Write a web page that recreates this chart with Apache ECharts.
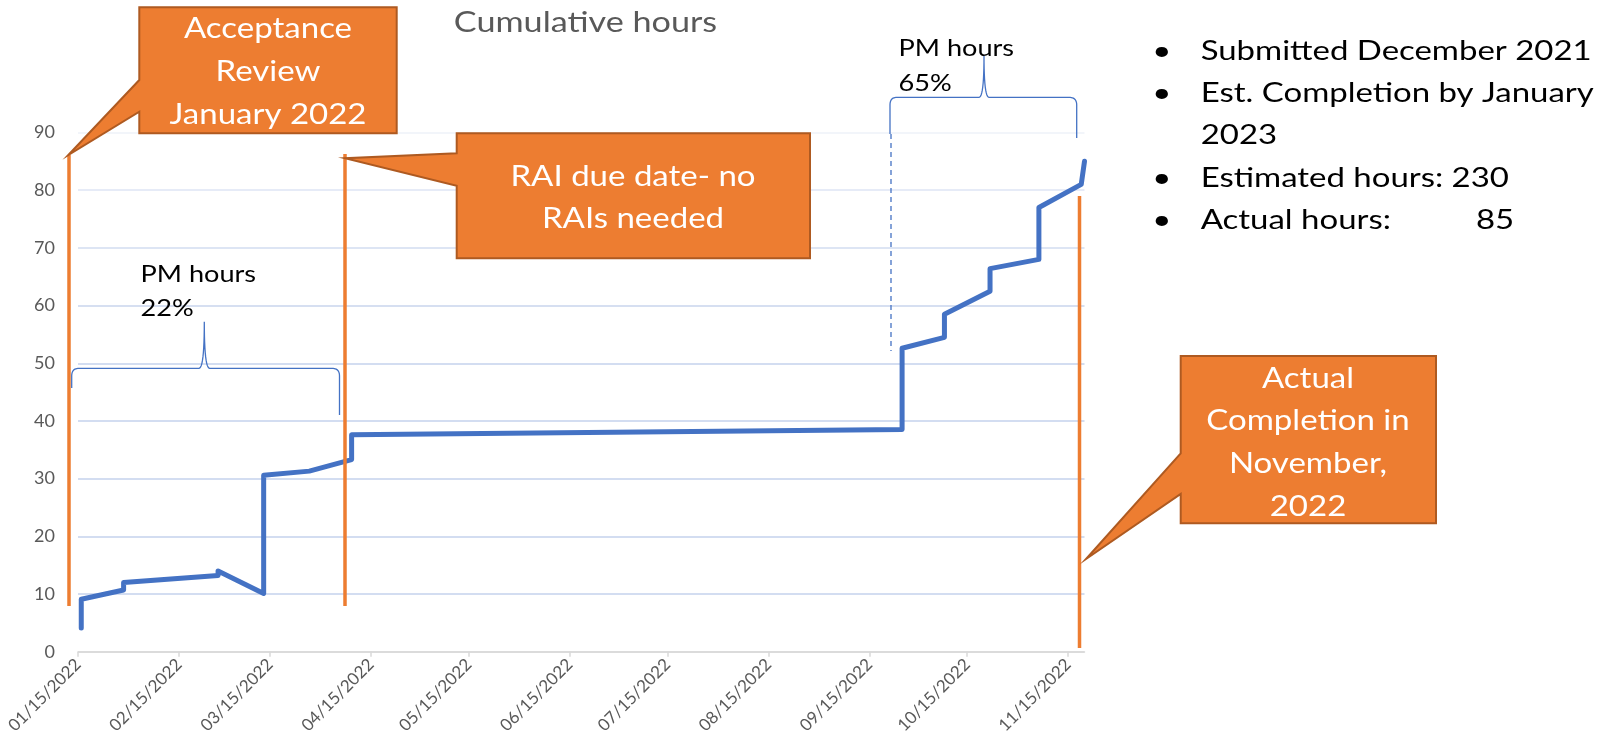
<!DOCTYPE html>
<html><head><meta charset="utf-8">
<script src="https://cdn.jsdelivr.net/npm/echarts@6/dist/echarts.min.js"></script>
<style>html,body{margin:0;padding:0;background:#fff}#c{width:1608px;height:742px}</style>
</head><body><div id="c"></div>
<script>
// ---- data ----
const dates = ['2022-01-16','2022-01-16','2022-01-29','2022-01-29','2022-02-27','2022-02-27','2022-03-13','2022-03-13','2022-03-27','2022-04-09','2022-04-09','2022-09-25','2022-09-25','2022-10-08','2022-10-08','2022-10-22','2022-10-22','2022-11-06','2022-11-06','2022-11-19','2022-11-20'];
const hours = [4.1, 9.1, 10.7, 12.0, 13.2, 14.0, 10.1, 30.6, 31.3, 33.3, 37.6, 38.5, 52.6, 54.5, 58.5, 62.5, 66.4, 68.0, 77.0, 81.0, 85.0];
const tickLabels = ['01/15/2022','02/15/2022','03/15/2022','04/15/2022','05/15/2022','06/15/2022','07/15/2022','08/15/2022','09/15/2022','10/15/2022','11/15/2022'];
const axisStart = '01/15/2022';
const axisEnd = '11/20/2022';
const yMin = 0, yMax = 90, yStep = 10;
const titleText = 'Cumulative hours';
const bullets = ['Submitted December 2021', 'Est. Completion by January', '2023', 'Estimated hours: 230', 'Actual hours:'];
const actualHoursValue = '85';
const callout1 = ['Acceptance', 'Review', 'January 2022'];
const callout2 = ['RAI due date- no', 'RAIs needed'];
const callout3 = ['Actual', 'Completion in', 'November,', '2022'];
const pmLeft = ['PM hours', '22%'];
const pmRight = ['PM hours', '65%'];

// ---- helpers ----
const toTs = s => { const [m, d, y] = s.split('/').map(Number); return new Date(y, m - 1, d).getTime(); };
const isoTs = s => { const [y, m, d] = s.split('-').map(Number); return new Date(y, m - 1, d).getTime(); };
const tickTs = tickLabels.map(toTs);
const pad = n => (n < 10 ? '0' : '') + n;
const fmt = v => { const d = new Date(v); return pad(d.getMonth() + 1) + '/' + pad(d.getDate()) + '/' + d.getFullYear(); };
const seriesData = dates.map((d, i) => [isoTs(d), hours[i]]);

const FONT = 'Lato';
const mctx = document.createElement('canvas').getContext('2d');
function textW(t, size) { mctx.font = size + 'px ' + FONT; return mctx.measureText(t).width; }
const STRETCH = 391 / textW('Submitted December 2021', 26);

function txt(text, x, baseline, size, color, align, k) {
  return {
    type: 'text', x: x, y: baseline - 0.35 * size, scaleX: STRETCH * (k || 1), z: 120,
    style: { text: text, font: size + 'px ' + FONT, fill: color, align: align || 'left', verticalAlign: 'middle' }
  };
}
function bracePts(cmds) {
  const pts = []; let cur = null;
  cmds.forEach(c => {
    if (c[0] === 'M' || c[0] === 'L') { cur = [c[1], c[2]]; pts.push(cur); }
    else {
      const [_, cx, cy, x, y] = c; const p0 = cur;
      for (let k = 1; k <= 12; k++) {
        const t = k / 12, u = 1 - t;
        pts.push([u*u*p0[0] + 2*u*t*cx + t*t*x, u*u*p0[1] + 2*u*t*cy + t*t*y]);
      }
      cur = [x, y];
    }
  });
  return pts;
}

const ORANGE = '#ED7D31', ORANGE_D = '#AE5A21', BLUE = '#4472C4';
const K = 0.93;
const g = [];
[[69, 155, 606], [345, 154, 606], [1079.5, 196, 648]].forEach(l => g.push({
  type: 'line', z: 110, shape: { x1: l[0], y1: l[1], x2: l[0], y2: l[2] },
  style: { stroke: ORANGE, lineWidth: 3.5 }
}));
g.push({ type: 'polyline', z: 110, shape: { points: bracePts([['M',71.7,388],['L',71.7,376],['Q',71.7,368.3,79,368.3],['L',199,368.3],['Q',204.3,368.3,204.3,321.7],['Q',204.3,368.3,209.6,368.3],['L',332,368.3],['Q',339.5,368.3,339.5,376],['L',339.5,415]]) }, style: { stroke: BLUE, lineWidth: 1.3, fill: null } });
g.push({ type: 'polyline', z: 110, shape: { points: bracePts([['M',890,134],['L',890,105],['Q',890,97.3,897,97.3],['L',979,97.3],['Q',984,97.3,984,56],['Q',984,97.3,989,97.3],['L',1069,97.3],['Q',1076.7,97.3,1076.7,105],['L',1076.7,138]]) }, style: { stroke: BLUE, lineWidth: 1.3, fill: null } });
g.push({ type: 'line', z: 110, shape: { x1: 891, y1: 134, x2: 891, y2: 351 }, style: { stroke: BLUE, lineWidth: 1.3, lineDash: [5, 4] } });
const callouts = [
  [[139.3,7.3],[396.7,7.3],[396.7,133.3],[139.3,133.3],[139.3,111.7],[68.3,155],[139.3,80]],
  [[456.7,133.3],[810,133.3],[810,258.3],[456.7,258.3],[456.7,185.7],[345,158.3],[456.7,153.3]],
  [[1180.7,356],[1436,356],[1436,523.3],[1180.7,523.3],[1180.7,494],[1086,559],[1180.7,453.3]]
];
callouts.forEach(p => g.push({ type: 'polygon', z: 115, shape: { points: p }, style: { fill: ORANGE, stroke: ORANGE_D, lineWidth: 2 } }));
[38.3, 81.7, 125].forEach((b, i) => g.push(txt(callout1[i], 268, b, 28, '#fff', 'center', K)));
[186.7, 229].forEach((b, i) => g.push(txt(callout2[i], 633, b, 28, '#fff', 'center', K)));
[388.3, 431, 473.8, 516.6].forEach((b, i) => g.push(txt(callout3[i], 1308, b, 28, '#fff', 'center', K)));
g.push(txt(titleText, 585.5, 33, 29, '#595959', 'center', K));
[283, 317].forEach((b, i) => g.push(txt(pmLeft[i], 140.5, b, 23, '#000', 'left', K)));
[56.5, 92].forEach((b, i) => g.push(txt(pmRight[i], 898.5, b, 23, '#000', 'left', K)));
const bl = [60.3, 102.7, 145.1, 187.5, 229.9];
bullets.forEach((t, i) => {
  g.push(txt(t, 1200.7, bl[i], 26, '#000'));
  if (i !== 2) g.push(txt('\u2022', 1161.7, bl[i], 26, '#000', 'center'));
});
g.push(txt(actualHoursValue, 1476, bl[4], 26, '#000'));

const gridColors = ['#D9D9D9','#C5D2EC','#C5D2EC','#C5D2EC','#C5D2EC','#C5D2EC','#C8D4ED','#D2DCF0','#DEE5F4','#EEF2F9'];

const chart = echarts.init(document.getElementById('c'));
chart.setOption({
  animation: false,
  backgroundColor: '#fff',
  grid: { left: 78, right: 1608 - 1084.5, top: 132.5, bottom: 742 - 651.7, outerBoundsMode: 'none', containLabel: false },
  xAxis: {
    type: 'value', min: toTs(axisStart), max: toTs(axisEnd), scale: true,
    axisLine: { show: true, lineStyle: { color: '#D9D9D9', width: 1.5 } },
    axisTick: { show: true, length: 5, lineStyle: { color: '#D9D9D9', width: 1.5 }, customValues: tickTs },
    axisLabel: { customValues: tickTs, formatter: v => fmt(v), rotate: 45, margin: 10, color: '#595959', fontSize: 17, fontFamily: FONT, hideOverlap: false },
    splitLine: { show: false }
  },
  yAxis: {
    type: 'value', min: yMin, max: yMax, interval: yStep,
    axisLine: { show: false }, axisTick: { show: false },
    axisLabel: { color: '#595959', fontSize: 18, fontFamily: FONT, margin: 23 },
    splitLine: { show: true, lineStyle: { color: gridColors, width: 1.5 } }
  },
  series: [{
    type: 'line', data: seriesData, showSymbol: false, clip: false,
    lineStyle: { color: BLUE, width: 5, cap: 'round', join: 'round' }, z: 5
  }],
  graphic: g
});
</script></body></html>
